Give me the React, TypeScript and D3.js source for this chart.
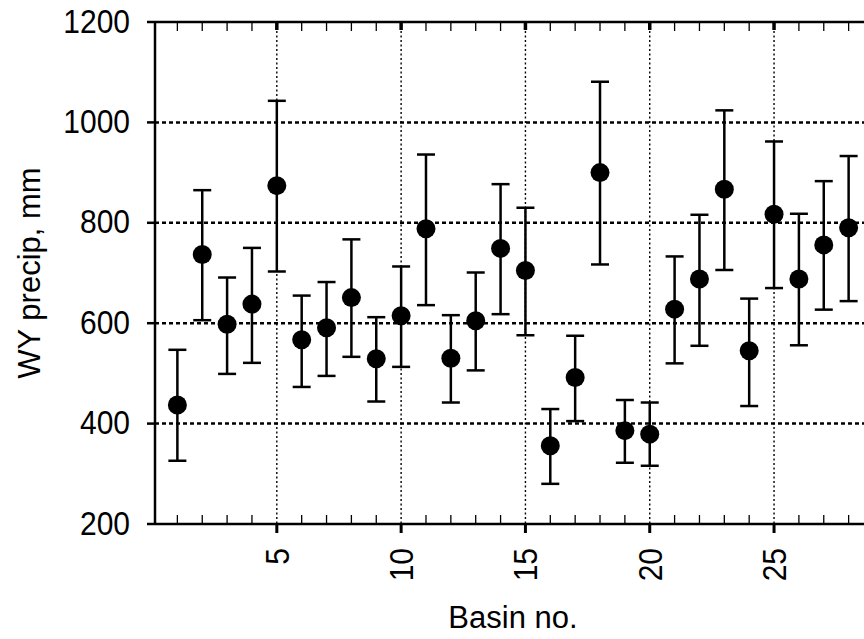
import React from "react";
import * as d3 from "d3";

const basins = [1,2,3,4,5,6,7,8,9,10,11,12,13,14,15,16,17,18,19,20,21,22,23,24,25,26,27,28];
const means = [437,737,598,638,874,567,591,651,529,615,788,530,605,749,705,356,492,900,386,379,628,688,867,545,817,688,756,790];
const uppers = [547,865,691,750,1043,655,682,767,612,713,936,616,701,877,830,429,575,1081,447,442,733,816,1024,649,962,818,883,933];
const lowers = [326,606,499,521,703,473,495,533,444,513,636,442,506,618,576,280,405,717,322,316,520,555,706,435,670,556,627,644];
const xMajorTicks = [5,10,15,20,25];
const xMinorTicks = [1,2,3,4,6,7,8,9,11,12,13,14,16,17,18,19,21,22,23,24,26,27,28];
const yTicks = [200,400,600,800,1000,1200];
const yGrid = [400,600,800,1000];

export default function App() {
  const W = 864, H = 639;
  const left = 155, right = 871, top = 22, bottom = 524;
  const x = d3.scaleLinear().domain([0.1, 28.9]).range([left, right]);
  const y = d3.scaleLinear().domain([200, 1200]).range([bottom, top]);
  const font = "Liberation Sans, Arial, sans-serif";
  const capW = 9;
  return (
    <svg width={W} height={H} style={{ position: "absolute", left: 0, top: 0, background: "#fff" }}>
      <rect x={0} y={0} width={W} height={H} fill="#fff" />
      {yGrid.map(v => (
        <line key={"hg" + v} x1={left} x2={right} y1={y(v)} y2={y(v)} stroke="#000" strokeWidth={2.5} strokeDasharray="4,3" />
      ))}
      {xMajorTicks.map(v => (
        <line key={"vg" + v} x1={x(v)} x2={x(v)} y1={top} y2={bottom} stroke="#000" strokeWidth={1.4} strokeDasharray="2,2.5" />
      ))}
      {xMinorTicks.map(v => (
        <g key={"mt" + v}>
          <line x1={x(v)} x2={x(v)} y1={bottom} y2={bottom - 9} stroke="#000" strokeWidth={1.3} />
          <line x1={x(v)} x2={x(v)} y1={top} y2={top + 9} stroke="#000" strokeWidth={1.3} />
        </g>
      ))}
      {xMajorTicks.map(v => (
        <g key={"Mt" + v}>
          <line x1={x(v)} x2={x(v)} y1={bottom} y2={bottom + 9} stroke="#000" strokeWidth={3} />
          <line x1={x(v)} x2={x(v)} y1={top} y2={top + 8} stroke="#000" strokeWidth={3.5} />
          <text transform={`translate(${x(v) + 12},${bottom + 24}) rotate(-90) scale(1,1.1)`} textAnchor="end" fontFamily={font} fontSize={30} fill="#000">{v}</text>
        </g>
      ))}
      {yTicks.map(v => (
        <g key={"yt" + v}>
          <line x1={left - 8} x2={left} y1={y(v)} y2={y(v)} stroke="#000" strokeWidth={2.5} />
          <text transform={`translate(${left - 25},${y(v) + 10.5}) scale(1,1.08)`} textAnchor="end" fontFamily={font} fontSize={30} fill="#000">{v}</text>
        </g>
      ))}
      <line x1={left} x2={left} y1={top - 1} y2={bottom + 1} stroke="#000" strokeWidth={2.5} />
      <line x1={left} x2={W} y1={top} y2={top} stroke="#000" strokeWidth={2.5} />
      <line x1={left} x2={W} y1={bottom} y2={bottom} stroke="#000" strokeWidth={2.5} />
      {basins.map((b, i) => (
        <g key={"e" + b}>
          <line x1={x(b)} x2={x(b)} y1={y(uppers[i])} y2={y(lowers[i])} stroke="#000" strokeWidth={2.5} />
          <line x1={x(b) - capW} x2={x(b) + capW} y1={y(uppers[i])} y2={y(uppers[i])} stroke="#000" strokeWidth={2.5} />
          <line x1={x(b) - capW} x2={x(b) + capW} y1={y(lowers[i])} y2={y(lowers[i])} stroke="#000" strokeWidth={2.5} />
          <circle cx={x(b)} cy={y(means[i])} r={9.5} fill="#000" />
        </g>
      ))}
      <text x={(left + right) / 2} y={628} textAnchor="middle" fontFamily={font} fontSize={31} fill="#000">Basin no.</text>
      <text transform={`translate(40,${(top + bottom) / 2}) rotate(-90)`} textAnchor="middle" fontFamily={font} fontSize={31} fill="#000">WY precip, mm</text>
    </svg>
  );
}
